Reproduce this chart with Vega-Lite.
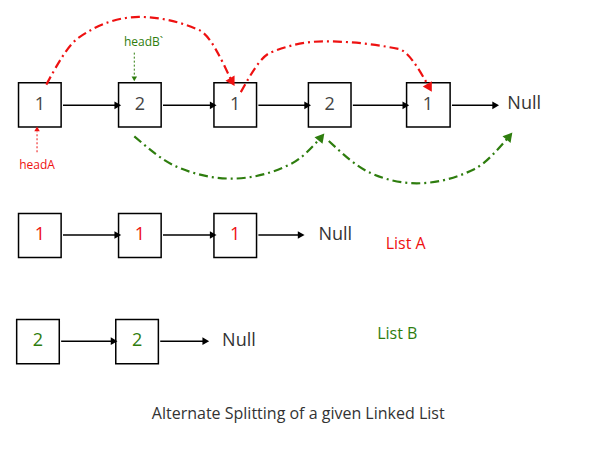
{
  "$schema": "https://vega.github.io/schema/vega-lite/v6.json",
  "width": 602,
  "height": 470,
  "padding": 0,
  "autosize": {"type": "none"},
  "config": {"view": {"stroke": null}, "font": "Open Sans"},
  "datasets": {
    "boxes": [
      {"x1": 20, "x2": 66, "y1": 88, "y2": 135},
      {"x1": 128, "x2": 174, "y1": 88, "y2": 135},
      {"x1": 231, "x2": 277, "y1": 88, "y2": 135},
      {"x1": 333, "x2": 379, "y1": 88, "y2": 135},
      {"x1": 439, "x2": 486, "y1": 88, "y2": 135},
      {"x1": 20, "x2": 66, "y1": 227, "y2": 274},
      {"x1": 128, "x2": 174, "y1": 227, "y2": 274},
      {"x1": 231, "x2": 277, "y1": 227, "y2": 274},
      {"x1": 18, "x2": 64, "y1": 340, "y2": 387},
      {"x1": 125, "x2": 171, "y1": 340, "y2": 387}
    ],
    "arrows": [
      {"x1": 68, "x2": 126, "y": 112},
      {"x1": 176, "x2": 229, "y": 112},
      {"x1": 279, "x2": 331, "y": 112},
      {"x1": 381, "x2": 437, "y": 112},
      {"x1": 488, "x2": 534, "y": 112},
      {"x1": 68, "x2": 126, "y": 250},
      {"x1": 176, "x2": 229, "y": 250},
      {"x1": 279, "x2": 324, "y": 250},
      {"x1": 66, "x2": 122, "y": 363},
      {"x1": 173, "x2": 221, "y": 363}
    ],
    "curves": [
      {"c": "r1", "col": "#ee1111", "x": 50, "y": 90},
      {"c": "r1", "col": "#ee1111", "x": 85, "y": 40},
      {"c": "r1", "col": "#ee1111", "x": 150, "y": 18},
      {"c": "r1", "col": "#ee1111", "x": 215, "y": 32},
      {"c": "r1", "col": "#ee1111", "x": 250, "y": 86},
      {"c": "r2", "col": "#ee1111", "x": 260, "y": 98},
      {"c": "r2", "col": "#ee1111", "x": 292, "y": 56},
      {"c": "r2", "col": "#ee1111", "x": 350, "y": 44},
      {"c": "r2", "col": "#ee1111", "x": 430, "y": 52},
      {"c": "r2", "col": "#ee1111", "x": 463, "y": 92},
      {"c": "g1", "col": "#2e7d0e", "x": 145, "y": 145},
      {"c": "g1", "col": "#2e7d0e", "x": 190, "y": 177},
      {"c": "g1", "col": "#2e7d0e", "x": 250, "y": 190},
      {"c": "g1", "col": "#2e7d0e", "x": 315, "y": 174},
      {"c": "g1", "col": "#2e7d0e", "x": 346, "y": 147},
      {"c": "g2", "col": "#2e7d0e", "x": 355, "y": 150},
      {"c": "g2", "col": "#2e7d0e", "x": 400, "y": 184},
      {"c": "g2", "col": "#2e7d0e", "x": 450, "y": 195},
      {"c": "g2", "col": "#2e7d0e", "x": 512, "y": 180},
      {"c": "g2", "col": "#2e7d0e", "x": 549, "y": 146},
      {"c": "ha", "col": "#ee1111", "x": 40, "y": 162},
      {"c": "ha", "col": "#ee1111", "x": 40, "y": 140},
      {"c": "hb", "col": "#2e7d0e", "x": 145, "y": 56},
      {"c": "hb", "col": "#2e7d0e", "x": 145, "y": 80}
    ],
    "heads": [
      {"x": 126, "y": 112, "a": 90, "col": "black", "s": 60},
      {"x": 229, "y": 112, "a": 90, "col": "black", "s": 60},
      {"x": 331, "y": 112, "a": 90, "col": "black", "s": 60},
      {"x": 437, "y": 112, "a": 90, "col": "black", "s": 60},
      {"x": 534, "y": 112, "a": 90, "col": "black", "s": 60},
      {"x": 126, "y": 250, "a": 90, "col": "black", "s": 60},
      {"x": 229, "y": 250, "a": 90, "col": "black", "s": 60},
      {"x": 324, "y": 250, "a": 90, "col": "black", "s": 60},
      {"x": 122, "y": 363, "a": 90, "col": "black", "s": 60},
      {"x": 221, "y": 363, "a": 90, "col": "black", "s": 60},
      {"x": 250, "y": 86, "a": 150, "col": "#ee1111", "s": 110},
      {"x": 463, "y": 92, "a": 150, "col": "#ee1111", "s": 110},
      {"x": 346, "y": 147, "a": 40, "col": "#2e7d0e", "s": 110},
      {"x": 549, "y": 146, "a": 40, "col": "#2e7d0e", "s": 110},
      {"x": 40, "y": 138, "a": 0, "col": "#ee1111", "s": 30},
      {"x": 145, "y": 83, "a": 180, "col": "#2e7d0e", "s": 30}
    ],
    "labels": [
      {"x": 43, "y": 112, "t": "1", "col": "#444444", "s": 18},
      {"x": 151, "y": 112, "t": "2", "col": "#444444", "s": 18},
      {"x": 254, "y": 112, "t": "1", "col": "#444444", "s": 18},
      {"x": 356, "y": 112, "t": "2", "col": "#444444", "s": 18},
      {"x": 462, "y": 112, "t": "1", "col": "#444444", "s": 18},
      {"x": 566, "y": 111, "t": "Null", "col": "#333333", "s": 18},
      {"x": 43, "y": 250, "t": "1", "col": "#ee1111", "s": 18},
      {"x": 151, "y": 250, "t": "1", "col": "#ee1111", "s": 18},
      {"x": 254, "y": 250, "t": "1", "col": "#ee1111", "s": 18},
      {"x": 362, "y": 250, "t": "Null", "col": "#333333", "s": 18},
      {"x": 438, "y": 260, "t": "List A", "col": "#ee1111", "s": 16},
      {"x": 41, "y": 363, "t": "2", "col": "#2e7d0e", "s": 18},
      {"x": 148, "y": 363, "t": "2", "col": "#2e7d0e", "s": 18},
      {"x": 258, "y": 363, "t": "Null", "col": "#333333", "s": 18},
      {"x": 429, "y": 355, "t": "List B", "col": "#2e7d0e", "s": 16},
      {"x": 40, "y": 176, "t": "headA", "col": "#ee1111", "s": 12},
      {"x": 155, "y": 45, "t": "headB`", "col": "#2e7d0e", "s": 12},
      {"x": 322, "y": 440, "t": "Alternate Splitting of a given Linked List", "col": "#333333", "s": 16}
    ]
  },
  "layer": [
    {
      "data": {"name": "boxes"},
      "mark": {"type": "rect", "fill": "white", "stroke": "black", "strokeWidth": 1.5},
      "encoding": {
        "x": {"field": "x1", "type": "quantitative", "scale": {"domain": [0, 602]}, "axis": null},
        "x2": {"field": "x2"},
        "y": {"field": "y1", "type": "quantitative", "scale": {"domain": [0, 470], "reverse": true}, "axis": null},
        "y2": {"field": "y2"}
      }
    },
    {
      "data": {"name": "arrows"},
      "mark": {"type": "rule", "color": "black", "strokeWidth": 1.5},
      "encoding": {
        "x": {"field": "x1", "type": "quantitative"},
        "x2": {"field": "x2"},
        "y": {"field": "y", "type": "quantitative"}
      }
    },
    {
      "data": {"name": "curves"},
      "mark": {"type": "line", "interpolate": "monotone"},
      "encoding": {
        "x": {"field": "x", "type": "quantitative"},
        "y": {"field": "y", "type": "quantitative"},
        "detail": {"field": "c"},
        "color": {"field": "col", "type": "nominal", "scale": null},
        "strokeWidth": {"condition": {"test": "datum.c == 'ha' || datum.c == 'hb'", "value": 1}, "value": 2.2},
        "strokeDash": {"condition": {"test": "datum.c == 'ha' || datum.c == 'hb'", "value": [2, 2]}, "value": [9, 4, 2, 4]}
      }
    },
    {
      "data": {"name": "heads"},
      "mark": {"type": "point", "shape": "triangle", "filled": true, "opacity": 1},
      "encoding": {
        "x": {"field": "x", "type": "quantitative"},
        "y": {"field": "y", "type": "quantitative"},
        "angle": {"field": "a", "type": "quantitative", "scale": null},
        "size": {"field": "s", "type": "quantitative", "scale": null},
        "color": {"field": "col", "type": "nominal", "scale": null}
      }
    },
    {
      "data": {"name": "labels"},
      "mark": {"type": "text", "baseline": "middle", "align": "center"},
      "encoding": {
        "x": {"field": "x", "type": "quantitative"},
        "y": {"field": "y", "type": "quantitative"},
        "text": {"field": "t"},
        "size": {"field": "s", "type": "quantitative", "scale": null},
        "color": {"field": "col", "type": "nominal", "scale": null}
      }
    }
  ]
}
